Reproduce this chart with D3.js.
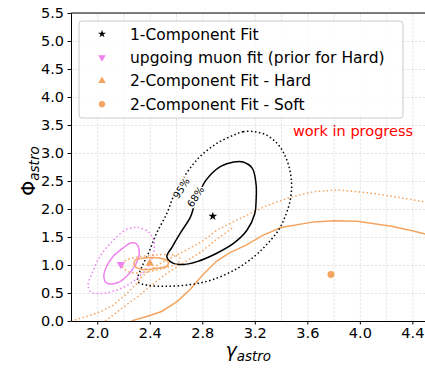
<!DOCTYPE html>
<meta charset="utf-8">
<style>
    body { margin: 0; background: #fff; }
    text { font-family: "DejaVu Sans", sans-serif; }
    .grid line { stroke: #dedede; stroke-width: 0.8; stroke-dasharray: 2.5, 1.5; }
    .grid path { display: none; }
    .axis text { font-size: 14.5px; fill: #000; }
    .axis path, .axis line { stroke: #000; stroke-width: 1; }
    .contour { fill: none; stroke-width: 1.5; }
    .dotted { stroke-dasharray: 1.5, 2.5; }
</style>
<svg width="425" height="371"></svg>
<script src="https://cdn.jsdelivr.net/npm/d3@7"></script>
<script>
    // best fit points [gamma, phi]
    var oneCompFit = [2.88, 1.87];
    var upgoingFit = [2.18, 1.01];
    var hardFit = [2.40, 1.03];
    var softFit = [3.78, 0.83];

    // 1-component contours
    var oneComp68 = [[3.04, 2.84], [3.11, 2.84], [3.18, 2.73], [3.21, 2.43], [3.21, 2.16], [3.20, 1.92],
        [3.14, 1.62], [3.04, 1.39], [2.91, 1.21], [2.76, 1.06], [2.66, 1.01], [2.58, 1.03], [2.53, 1.15],
        [2.57, 1.32], [2.63, 1.56], [2.71, 1.86], [2.74, 2.07], [2.78, 2.30], [2.83, 2.52], [2.94, 2.76]];
    var oneComp95 = [[3.04, 3.32], [3.11, 3.38], [3.20, 3.38], [3.29, 3.32], [3.37, 3.17], [3.42, 3.00],
        [3.46, 2.76], [3.48, 2.46], [3.47, 2.16], [3.43, 1.86], [3.38, 1.62], [3.30, 1.39], [3.20, 1.16],
        [3.06, 0.93], [2.88, 0.74], [2.71, 0.65], [2.52, 0.62], [2.38, 0.64], [2.31, 0.70], [2.31, 0.79],
        [2.34, 0.97], [2.39, 1.21], [2.45, 1.56], [2.53, 1.92], [2.59, 2.28], [2.68, 2.64], [2.78, 2.93],
        [2.91, 3.17]];

    // upgoing muon contours
    var upgoing68 = [[2.29, 1.39], [2.31, 1.34], [2.32, 1.21], [2.29, 1.00], [2.22, 0.79], [2.15, 0.68],
        [2.07, 0.68], [2.05, 0.79], [2.07, 0.97], [2.12, 1.15], [2.20, 1.31], [2.25, 1.39]];
    var upgoing95 = [[2.31, 1.67], [2.39, 1.59], [2.43, 1.44], [2.43, 1.23], [2.40, 1.03], [2.33, 0.82],
        [2.23, 0.64], [2.12, 0.53], [2.02, 0.49], [1.95, 0.52], [1.93, 0.64], [1.96, 0.85], [2.02, 1.15],
        [2.11, 1.41], [2.21, 1.62], [2.28, 1.67]];

    // 2-component hard contours
    var hard68 = [[2.29, 1.09], [2.38, 1.13], [2.48, 1.12], [2.54, 1.06], [2.53, 0.98], [2.45, 0.94],
        [2.35, 0.92], [2.29, 0.97], [2.28, 1.03]];
    var hard95 = [[2.19, 0.98], [2.21, 1.07], [2.30, 1.14], [2.45, 1.18], [2.58, 1.18], [2.63, 1.12],
        [2.61, 1.03], [2.50, 0.94], [2.38, 0.88], [2.25, 0.87]];

    // 2-component soft contours (open, run off the plot)
    var soft68 = [[2.26, 0.0], [2.39, 0.09], [2.49, 0.17], [2.61, 0.35], [2.71, 0.57], [2.81, 0.84],
        [2.91, 1.07], [3.01, 1.22], [3.13, 1.35], [3.26, 1.53], [3.40, 1.67], [3.65, 1.77], [3.80, 1.79],
        [3.98, 1.78], [4.24, 1.69], [4.40, 1.61], [4.50, 1.55], [4.60, 1.50]];
    var soft95 = [[1.80, 0.0], [1.89, 0.06], [2.02, 0.16], [2.12, 0.28], [2.21, 0.46], [2.29, 0.64],
        [2.34, 0.79], [2.40, 0.91], [2.48, 1.03], [2.58, 1.15], [2.68, 1.27], [2.81, 1.44], [2.91, 1.62],
        [3.01, 1.74], [3.14, 1.89], [3.27, 2.04], [3.47, 2.21], [3.65, 2.31], [3.83, 2.34], [3.98, 2.31],
        [4.13, 2.27], [4.34, 2.19], [4.49, 2.13], [4.60, 2.08]];
    var soft95b = [[2.06, 0.0], [2.19, 0.23], [2.31, 0.44], [2.43, 0.67], [2.53, 0.85], [2.65, 1.03],
        [2.79, 1.23], [2.90, 1.44], [3.04, 1.68]];

    // contour labels [text, gamma, phi]
    var contourLabels = [["95%", 2.64, 2.37], ["68%", 2.75, 2.22]];

    var xTicks = [2.0, 2.4, 2.8, 3.2, 3.6, 4.0, 4.4];
    var xGrid = [1.8, 2.0, 2.2, 2.4, 2.6, 2.8, 3.0, 3.2, 3.4, 3.6, 3.8, 4.0, 4.2, 4.4];
    var yTicks = [0.0, 0.5, 1.0, 1.5, 2.0, 2.5, 3.0, 3.5, 4.0, 4.5, 5.0, 5.5];
    var legendLabels = ["1-Component Fit", "upgoing muon fit (prior for Hard)",
        "2-Component Fit - Hard", "2-Component Fit - Soft"];
    var watermark = ["work in progress", 3.49, 3.30];

    var ORANGE = "#f4a460", VIOLET = "#ee82ee";

    var svg = d3.select("svg"),
        margin = { top: 13, left: 71, bottom: 50, right: 0 },
        width = 354.5,
        height = +svg.attr("height") - margin.top - margin.bottom;

    var x = d3.scaleLinear().domain([1.8, 4.5]).range([0, width]),
        y = d3.scaleLinear().domain([0, 5.5]).range([height, 0]);

    svg.append("defs").append("clipPath")
        .attr("id", "clip")
        .append("rect")
        .attr("width", width)
        .attr("height", height);

    var g = svg.append("g")
        .attr("transform", "translate(" + margin.left + "," + margin.top + ")");

    // grid
    g.append("g")
        .attr("class", "grid")
        .attr("transform", "translate(0," + height + ")")
        .call(d3.axisBottom(x).tickValues(xGrid).tickSize(-height).tickFormat(""));
    g.append("g")
        .attr("class", "grid")
        .call(d3.axisLeft(y).tickValues(yTicks).tickSize(-width).tickFormat(""));

    var plot = g.append("g").attr("clip-path", "url(#clip)");

    var closedLine = d3.line()
        .x(function (d) { return x(d[0]); })
        .y(function (d) { return y(d[1]); })
        .curve(d3.curveCatmullRomClosed);
    var openLine = d3.line()
        .x(function (d) { return x(d[0]); })
        .y(function (d) { return y(d[1]); });

    var contours = [
        { data: soft95, closed: false, color: ORANGE, dotted: true },
        { data: soft95b, closed: false, color: ORANGE, dotted: true },
        { data: soft68, closed: false, color: ORANGE, dotted: false },
        { data: oneComp95, closed: true, color: "#000", dotted: true },
        { data: oneComp68, closed: true, color: "#000", dotted: false },
        { data: upgoing95, closed: true, color: VIOLET, dotted: true },
        { data: upgoing68, closed: true, color: VIOLET, dotted: false },
        { data: hard95, closed: true, color: ORANGE, dotted: true },
        { data: hard68, closed: true, color: ORANGE, dotted: false }
    ];

    plot.selectAll(".contour")
        .data(contours)
        .enter().append("path")
        .attr("class", function (d) { return d.dotted ? "contour dotted" : "contour"; })
        .attr("stroke", function (d) { return d.color; })
        .attr("d", function (d) { return d.closed ? closedLine(d.data) : openLine(d.data); });

    // inline contour labels
    plot.selectAll(".clabel")
        .data(contourLabels)
        .enter().append("text")
        .attr("class", "clabel")
        .attr("transform", function (d) {
            return "translate(" + x(d[1]) + "," + y(d[2]) + ") rotate(-57)";
        })
        .attr("text-anchor", "middle")
        .attr("dy", "0.35em")
        .style("font-size", "10px")
        .style("paint-order", "stroke")
        .attr("stroke", "#fff")
        .attr("stroke-width", 3)
        .text(function (d) { return d[0]; });

    // markers
    var markers = [
        { p: oneCompFit, type: d3.symbolStar, size: 24, rot: 0, color: "#000" },
        { p: upgoingFit, type: d3.symbolTriangle, size: 30, rot: 180, color: VIOLET },
        { p: hardFit, type: d3.symbolTriangle, size: 30, rot: 0, color: ORANGE },
        { p: softFit, type: d3.symbolCircle, size: 38, rot: 0, color: ORANGE }
    ];
    plot.selectAll(".marker")
        .data(markers)
        .enter().append("path")
        .attr("class", "marker")
        .attr("d", function (d) { return d3.symbol().type(d.type).size(d.size)(); })
        .attr("fill", function (d) { return d.color; })
        .attr("transform", function (d) {
            return "translate(" + x(d.p[0]) + "," + y(d.p[1]) + ") rotate(" + d.rot + ")";
        });

    // watermark
    g.append("text")
        .attr("x", x(watermark[1]))
        .attr("y", y(watermark[2]))
        .attr("fill", "#ff0000")
        .style("font-size", "14.5px")
        .text(watermark[0]);

    // axes
    g.append("g")
        .attr("class", "axis axis--x")
        .attr("transform", "translate(0," + height + ")")
        .call(d3.axisBottom(x).tickValues(xTicks).tickFormat(d3.format(".1f"))
            .tickSize(3.5).tickPadding(3.5).tickSizeOuter(0));
    g.append("g")
        .attr("class", "axis axis--y")
        .call(d3.axisLeft(y).tickValues(yTicks).tickFormat(d3.format(".1f"))
            .tickSize(3.5).tickPadding(3.5).tickSizeOuter(0));
    g.append("line")
        .attr("x1", 0).attr("x2", width)
        .attr("y1", 0).attr("y2", 0)
        .attr("stroke", "#000");
    g.append("line")
        .attr("x1", width).attr("x2", width)
        .attr("y1", 0).attr("y2", height)
        .attr("stroke", "#000");

    // axis labels
    var xl = svg.append("text")
        .attr("x", margin.left + width / 2)
        .attr("y", 357)
        .attr("text-anchor", "middle")
        .style("font-style", "italic");
    xl.append("tspan").style("font-size", "19px").text("γ");
    xl.append("tspan").style("font-size", "13.5px").attr("dy", 4).text("astro");

    var yl = svg.append("text")
        .attr("transform", "translate(35," + (margin.top + height / 2 + 4) + ") rotate(-90)")
        .attr("text-anchor", "middle");
    yl.append("tspan").style("font-size", "19px").text("Φ");
    yl.append("tspan").style("font-size", "13.5px").style("font-style", "italic").attr("dy", 4).text("astro");

    // legend
    var legend = svg.append("g").attr("transform", "translate(79,21)");
    legend.append("rect")
        .attr("width", 324)
        .attr("height", 97)
        .attr("rx", 3)
        .attr("fill", "#fff")
        .attr("fill-opacity", 0.8)
        .attr("stroke", "#cccccc");

    var rows = legend.selectAll(".row")
        .data(legendLabels)
        .enter().append("g")
        .attr("class", "row")
        .attr("transform", function (d, i) { return "translate(0," + (13 + i * 23.4) + ")"; });
    rows.append("path")
        .attr("transform", function (d, i) { return "translate(23,0) rotate(" + markers[i].rot + ")"; })
        .attr("d", function (d, i) { return d3.symbol().type(markers[i].type).size(markers[i].size * 0.8)(); })
        .attr("fill", function (d, i) { return markers[i].color; });
    rows.append("text")
        .attr("x", 51)
        .attr("y", 5.6)
        .style("font-size", "15.5px")
        .text(function (d) { return d; });
</script>
